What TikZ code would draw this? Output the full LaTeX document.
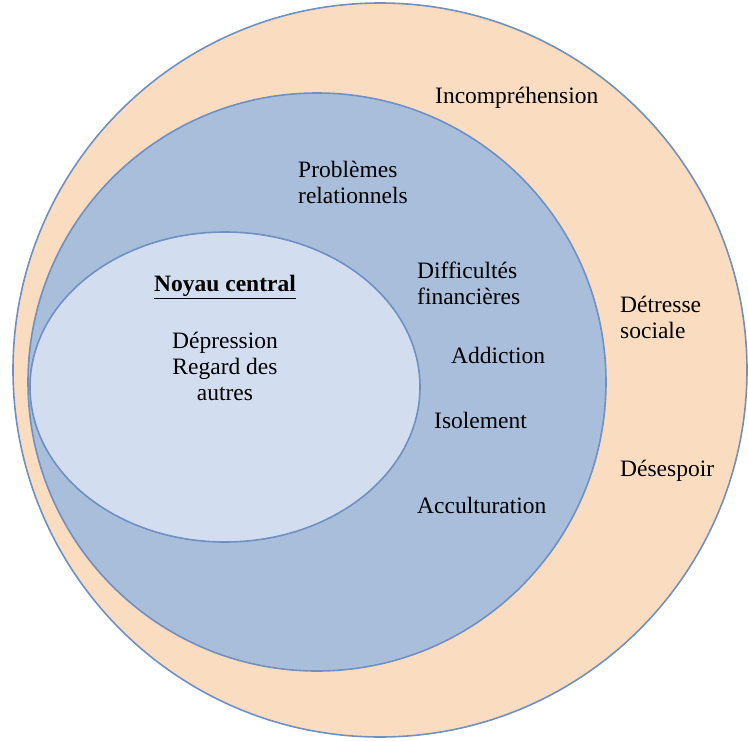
\documentclass[tikz,border=0pt]{standalone}
\usepackage{fontspec}
\setmainfont{Liberation Serif}
\definecolor{peach}{RGB}{250,221,193}
\definecolor{midblue}{RGB}{168,190,219}
\definecolor{lightblue}{RGB}{210,222,240}
\definecolor{edgeblue}{RGB}{112,144,194}
\begin{document}
\begin{tikzpicture}[x=1pt,y=-1pt,
  zone/.style={draw=edgeblue, line width=1.6pt},
  lbl/.style={font=\fontsize{23.5}{26}\selectfont, text=black, inner sep=0pt},
  lbll/.style={lbl, align=left, anchor=west},
  lblc/.style={lbl, align=center}]
\useasboundingbox (0,0) rectangle (748,740);
\draw[zone, fill=peach] (380,370) circle (367);
\draw[zone, fill=midblue] (317,382) circle (289);
\draw[zone, fill=lightblue] (225,387) ellipse (195 and 155);
\node[lbll] (incomp) at (435,98) {Incompréhension};
\node[lbll] (prob) at (298,182) {Problèmes\\relationnels};
\node[lblc] (noyau) at (225,287) {\textbf{\underline{Noyau central}}};
\node[lblc] (dep) at (225,366) {Dépression\\Regard des\\autres};
\node[lbll] (diff) at (417,283) {Difficultés\\financières};
\node[lbll] (addi) at (451,355) {Addiction};
\node[lbll] (isol) at (434,420) {Isolement};
\node[lbll] (accu) at (417,505) {Acculturation};
\node[lbll] (detr) at (620,317) {Détresse\\sociale};
\node[lbll] (deses) at (620,471) {Désespoir};
\end{tikzpicture}
\end{document}
